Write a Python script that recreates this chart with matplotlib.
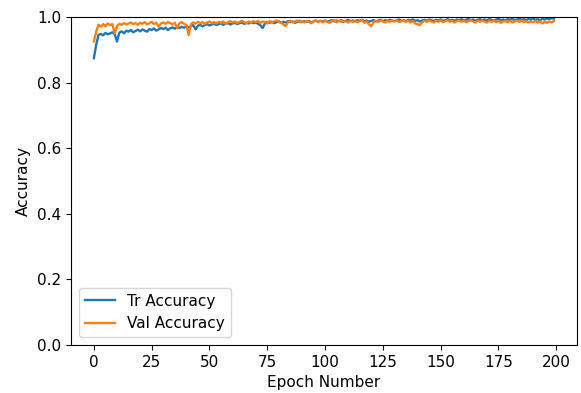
import numpy as np
import matplotlib.pyplot as plt

epochs = np.arange(200)

tr_acc = [
    0.874, 0.915, 0.945, 0.948, 0.944, 0.951, 0.947, 0.950, 0.953, 0.948,
    0.925, 0.952, 0.956, 0.950, 0.958, 0.955, 0.960, 0.953, 0.957, 0.961,
    0.956, 0.962, 0.958, 0.955, 0.963, 0.960, 0.965, 0.958, 0.962, 0.966,
    0.963, 0.967, 0.960, 0.965, 0.968, 0.964, 0.969, 0.966, 0.970, 0.967,
    0.971, 0.968, 0.972, 0.975, 0.962, 0.973, 0.976, 0.971, 0.975, 0.978,
    0.974, 0.977, 0.979, 0.975, 0.978, 0.980, 0.976, 0.979, 0.981, 0.977,
    0.980, 0.982, 0.978, 0.981, 0.983, 0.979, 0.982, 0.980, 0.984, 0.981,
    0.983, 0.979, 0.975, 0.966, 0.980, 0.984, 0.982, 0.985, 0.981, 0.984,
    0.986, 0.982, 0.985, 0.983, 0.987, 0.984, 0.986, 0.982, 0.985, 0.988,
    0.984, 0.987, 0.985, 0.988, 0.983, 0.986, 0.989, 0.985, 0.988, 0.986,
    0.989, 0.985, 0.988, 0.990, 0.986, 0.989, 0.987, 0.990, 0.985, 0.988,
    0.991, 0.987, 0.989, 0.986, 0.990, 0.988, 0.991, 0.987, 0.989, 0.985,
    0.988, 0.990, 0.986, 0.989, 0.991, 0.987, 0.990, 0.988, 0.991, 0.989,
    0.987, 0.990, 0.992, 0.988, 0.990, 0.987, 0.991, 0.989, 0.992, 0.988,
    0.990, 0.986, 0.989, 0.991, 0.988, 0.992, 0.990, 0.987, 0.991, 0.989,
    0.992, 0.988, 0.990, 0.993, 0.989, 0.991, 0.988, 0.992, 0.990, 0.993,
    0.989, 0.991, 0.994, 0.990, 0.992, 0.988, 0.991, 0.993, 0.990, 0.992,
    0.989, 0.993, 0.991, 0.988, 0.992, 0.994, 0.990, 0.992, 0.989, 0.993,
    0.991, 0.994, 0.990, 0.992, 0.995, 0.991, 0.993, 0.990, 0.994, 0.992,
    0.995, 0.991, 0.993, 0.990, 0.994, 0.992, 0.995, 0.993, 0.996, 0.995,
]

val_acc = [
    0.925, 0.955, 0.976, 0.970, 0.978, 0.972, 0.980, 0.975, 0.978, 0.950,
    0.972, 0.979, 0.976, 0.981, 0.977, 0.980, 0.983, 0.978, 0.981, 0.976,
    0.982, 0.979, 0.984, 0.977, 0.981, 0.985, 0.978, 0.982, 0.970, 0.980,
    0.983, 0.979, 0.984, 0.981, 0.977, 0.982, 0.966, 0.980, 0.984, 0.979,
    0.975, 0.945, 0.978, 0.983, 0.980, 0.985, 0.981, 0.984, 0.979, 0.983,
    0.986, 0.981, 0.984, 0.980, 0.985, 0.982, 0.986, 0.979, 0.984, 0.987,
    0.983, 0.986, 0.981, 0.985, 0.988, 0.984, 0.980, 0.986, 0.983, 0.987,
    0.984, 0.988, 0.982, 0.986, 0.984, 0.980, 0.987, 0.983, 0.986, 0.989,
    0.985, 0.982, 0.977, 0.972, 0.984, 0.988, 0.983, 0.986, 0.989, 0.984,
    0.987, 0.983, 0.988, 0.985, 0.981, 0.986, 0.989, 0.984, 0.987, 0.983,
    0.988, 0.985, 0.982, 0.987, 0.990, 0.984, 0.988, 0.985, 0.989, 0.986,
    0.983, 0.988, 0.985, 0.989, 0.984, 0.987, 0.990, 0.982, 0.986, 0.977,
    0.972, 0.984, 0.988, 0.985, 0.989, 0.986, 0.983, 0.988, 0.985, 0.989,
    0.986, 0.990, 0.984, 0.987, 0.989, 0.985, 0.988, 0.983, 0.987, 0.980,
    0.978, 0.975, 0.984, 0.988, 0.985, 0.989, 0.986, 0.983, 0.988, 0.985,
    0.989, 0.984, 0.987, 0.990, 0.985, 0.988, 0.983, 0.987, 0.989, 0.985,
    0.988, 0.984, 0.987, 0.990, 0.986, 0.983, 0.988, 0.985, 0.989, 0.986,
    0.983, 0.988, 0.985, 0.989, 0.984, 0.987, 0.982, 0.986, 0.988, 0.984,
    0.987, 0.983, 0.986, 0.989, 0.985, 0.988, 0.984, 0.987, 0.983, 0.986,
    0.984, 0.987, 0.983, 0.986, 0.980, 0.985, 0.982, 0.986, 0.983, 0.988,
]

plt.rcParams['font.size'] = 11

fig = plt.figure(figsize=(5.81, 3.93), dpi=100)
ax = fig.add_axes([0.122, 0.122, 0.871, 0.835])
ax.plot(epochs, tr_acc, lw=1.7, label='Tr Accuracy')
ax.plot(epochs, val_acc, lw=1.7, label='Val Accuracy')
ax.set_ylim(0, 1.0)
ax.set_xlabel('Epoch Number')
ax.set_ylabel('Accuracy')
ax.legend(loc='lower left')
fig.savefig('out.png', dpi=100)
